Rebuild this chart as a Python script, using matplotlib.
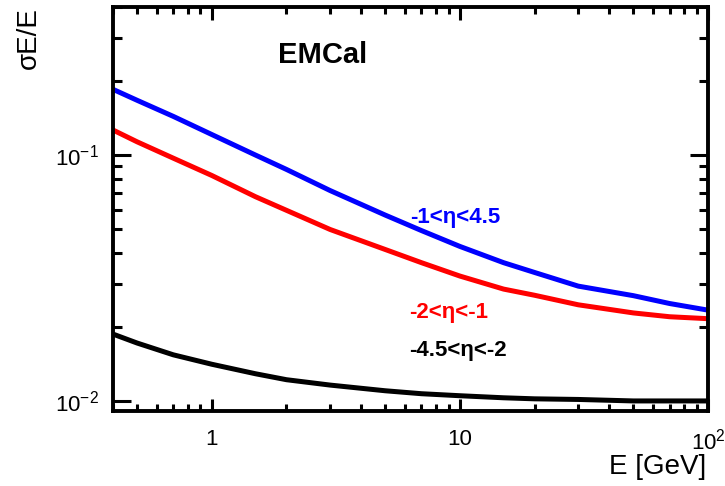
import matplotlib
matplotlib.use("Agg")
import matplotlib.pyplot as plt
from matplotlib.ticker import FixedLocator, FixedFormatter, LogLocator, NullFormatter
import numpy as np

plt.rcParams['font.family'] = ['Liberation Sans', 'DejaVu Sans']
plt.rcParams['mathtext.fontset'] = 'custom'
plt.rcParams['mathtext.rm'] = 'Liberation Sans'
plt.rcParams['mathtext.it'] = 'Liberation Sans:italic'
plt.rcParams['mathtext.bf'] = 'Liberation Sans:bold'

# energy points (GeV) and relative resolution for each eta range
energy = [0.4, 0.5, 0.7, 1, 1.5, 2, 3, 5, 7, 10, 15, 20, 30, 50, 70, 100]
res_fwd = [0.185, 0.167, 0.1436, 0.1212, 0.100, 0.0874, 0.0717, 0.0570, 0.0493,
           0.0425, 0.0365, 0.0333, 0.0293, 0.0268, 0.0249, 0.0234]
res_mid = [0.1264, 0.1132, 0.0971, 0.0826, 0.0677, 0.0596, 0.0498, 0.0413, 0.0365,
           0.0322, 0.0285, 0.0269, 0.0246, 0.0228, 0.0220, 0.0216]
res_bwd = [0.0187, 0.0172, 0.0154, 0.0141, 0.0129, 0.0122, 0.0116, 0.0110, 0.0107,
           0.0105, 0.0103, 0.0102, 0.01014, 0.0100, 0.0100, 0.0100]

x_ticks = [1, 10, 100]
x_ticklabels = ['1', '10', r'$10^{2}$']
y_ticks = [0.01, 0.1]
y_ticklabels = [r'$10^{-2}$', r'$10^{-1}$']

fig = plt.figure(figsize=(7.25, 4.86), dpi=100)
ax = fig.add_axes([0.1559, 0.1543, 0.8207, 0.8313])

ax.plot(energy, res_fwd, color='#0000ff', lw=3.6, solid_capstyle='butt')
ax.plot(energy, res_mid, color='#ff0000', lw=3.6, solid_capstyle='butt')
ax.plot(energy, res_bwd, color='black', lw=3.6, solid_capstyle='butt')

ax.set_xscale('log')
ax.set_yscale('log')
ax.set_xlim(0.4, 100)
ax.set_ylim(0.0091, 0.4)

ax.xaxis.set_major_locator(FixedLocator(x_ticks))
ax.xaxis.set_major_formatter(FixedFormatter(x_ticklabels))
ax.xaxis.set_minor_locator(LogLocator(base=10, subs=np.arange(2, 10)))
ax.xaxis.set_minor_formatter(NullFormatter())
ax.yaxis.set_major_locator(FixedLocator(y_ticks))
ax.yaxis.set_major_formatter(FixedFormatter(y_ticklabels))
ax.yaxis.set_minor_locator(LogLocator(base=10, subs=np.arange(2, 10)))
ax.yaxis.set_minor_formatter(NullFormatter())

for s in ax.spines.values():
    s.set_linewidth(2.8)
ax.tick_params(which='both', direction='in', top=True, right=True, width=2.2,
               labelsize=16)
ax.tick_params(axis='x', which='major', length=9, pad=13)
ax.tick_params(axis='x', which='minor', length=5)
ax.tick_params(axis='y', which='major', length=13, pad=10)
ax.tick_params(axis='y', which='minor', length=6.5)

ax.set_xlabel('E [GeV]', fontsize=20, loc='right', va='center')
ax.xaxis.set_label_coords(0.997, -0.138)
ax.set_ylabel(r'σE/E', fontsize=20, loc='top', va='center')
ax.yaxis.set_label_coords(-0.141, 1.0)

ax.text(0.277, 0.881, 'EMCal', transform=ax.transAxes, fontsize=21,
        fontweight='bold', va='center', ha='left')
ax.text(0.499, 0.480, '-1<η<4.5', transform=ax.transAxes, fontsize=16,
        fontweight='bold', color='#0000ff', va='center', ha='left')
ax.text(0.497, 0.245, '-2<η<-1', transform=ax.transAxes, fontsize=16,
        fontweight='bold', color='#ff0000', va='center', ha='left')
ax.text(0.497, 0.151, '-4.5<η<-2', transform=ax.transAxes, fontsize=16,
        fontweight='bold', color='black', va='center', ha='left')

fig.savefig('out.png', dpi=100)
